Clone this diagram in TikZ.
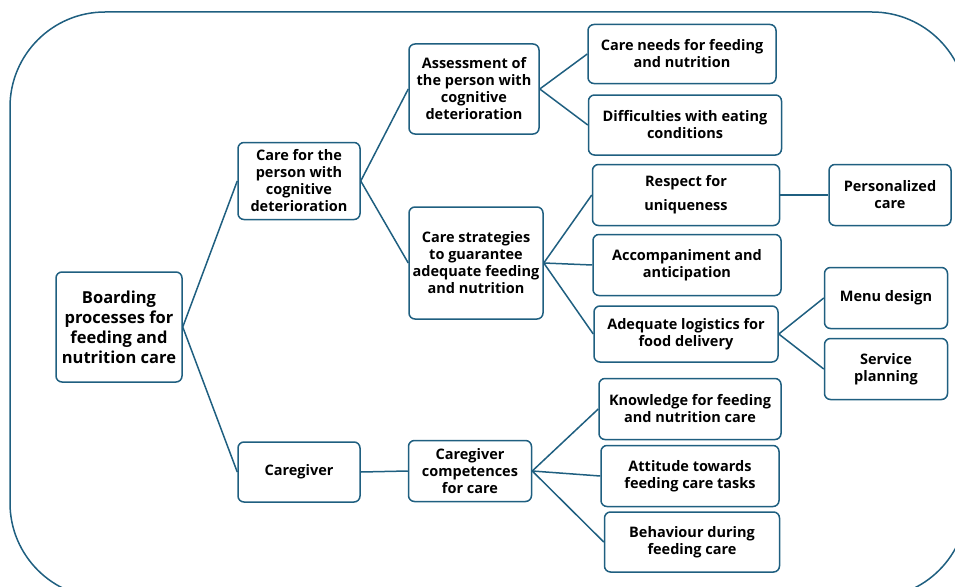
\documentclass[tikz,border=0pt]{standalone}
\usepackage{fontspec}
\setmainfont{Open Sans}
\usetikzlibrary{positioning}
\definecolor{lineblue}{RGB}{31,95,128}

\tikzset{
  box/.style={draw=lineblue, line width=1.5pt, rounded corners=6pt, fill=white,
    align=center, inner sep=2pt, font=\bfseries\fontsize{14.5}{17}\selectfont},
  bigbox/.style={box, font=\bfseries\fontsize{16.5}{20}\selectfont},
  link/.style={draw=lineblue, line width=1.5pt}
}

\begin{document}
\begin{tikzpicture}[x=1pt,y=-1pt]
		\useasboundingbox (0,0) rectangle (955,586);
		% outer frame, cut by the page edge
		\begin{scope}
			\clip (0,0) rectangle (955,586);
			\draw[lineblue, line width=1.5pt, rounded corners=95pt] (10,12) rectangle (967,598);
		\end{scope}

		\node[bigbox, minimum width=126pt, minimum height=110pt] (board) at (119,327) {Boarding\\processes for\\feeding and\\nutrition care};

		\node[box, minimum width=122pt, minimum height=77pt] (person) at (299,181) {Care for the\\person with\\cognitive\\deterioration};
		\node[box, minimum width=122pt, minimum height=60pt] (giver) at (299,472) {Caregiver};

		\node[box, minimum width=130pt, minimum height=90pt] (assess) at (474,89) {Assessment of\\the person with\\cognitive\\deterioration};
		\node[box, minimum width=134pt, minimum height=112pt] (strat) at (476,263) {Care strategies\\to guarantee\\adequate feeding\\and nutrition};
		\node[box, minimum width=123pt, minimum height=61pt] (compet) at (470,471) {Caregiver\\competences\\for care};

		\node[box, minimum width=188pt, minimum height=59pt] (needs) at (682,54) {Care needs for feeding\\and nutrition};
		\node[box, minimum width=193pt, minimum height=60pt] (diffic) at (685,125) {Difficulties with eating\\conditions};
		\node[box, minimum width=187pt, minimum height=61pt] (respect) at (686,195) {Respect for\\[7pt]uniqueness};
		\node[box, minimum width=188pt, minimum height=61pt] (accomp) at (687,265) {Accompaniment and\\anticipation};
		\node[box, minimum width=184pt, minimum height=56pt] (logist) at (686,334) {Adequate logistics for\\food delivery};
		\node[box, minimum width=182pt, minimum height=61pt] (knowl) at (690,409) {Knowledge for feeding\\and nutrition care};
		\node[box, minimum width=178pt, minimum height=61pt] (attit) at (690,476) {Attitude towards\\feeding care tasks};
		\node[box, minimum width=175pt, minimum height=60pt] (behav) at (692,542) {Behaviour during\\feeding care};

		\node[box, minimum width=122pt, minimum height=61pt] (person2) at (890,195) {Personalized\\care};
		\node[box, minimum width=123pt, minimum height=61pt] (menu) at (886,298) {Menu design};
		\node[box, minimum width=123pt, minimum height=61pt] (service) at (886,369) {Service\\planning};

		% connectors
		\draw[link] (board.east) -- (person.west);
		\draw[link] (board.east) -- (giver.west);
		\draw[link] (person.east) -- (assess.west);
		\draw[link] (person.east) -- (strat.west);
		\draw[link] (giver.east) -- (compet.west);
		\draw[link] (assess.east) -- (needs.west);
		\draw[link] (assess.east) -- (diffic.west);
		\draw[link] (strat.east) -- (respect.west);
		\draw[link] (strat.east) -- (accomp.west);
		\draw[link] (strat.east) -- (logist.west);
		\draw[link] (compet.east) -- (knowl.west);
		\draw[link] (compet.east) -- (attit.west);
		\draw[link] (compet.east) -- (behav.west);
		\draw[link] (respect.east) -- (person2.west);
		\draw[link] (logist.east) -- (menu.west);
		\draw[link] (logist.east) -- (service.west);
	\end{tikzpicture}
\end{document}
